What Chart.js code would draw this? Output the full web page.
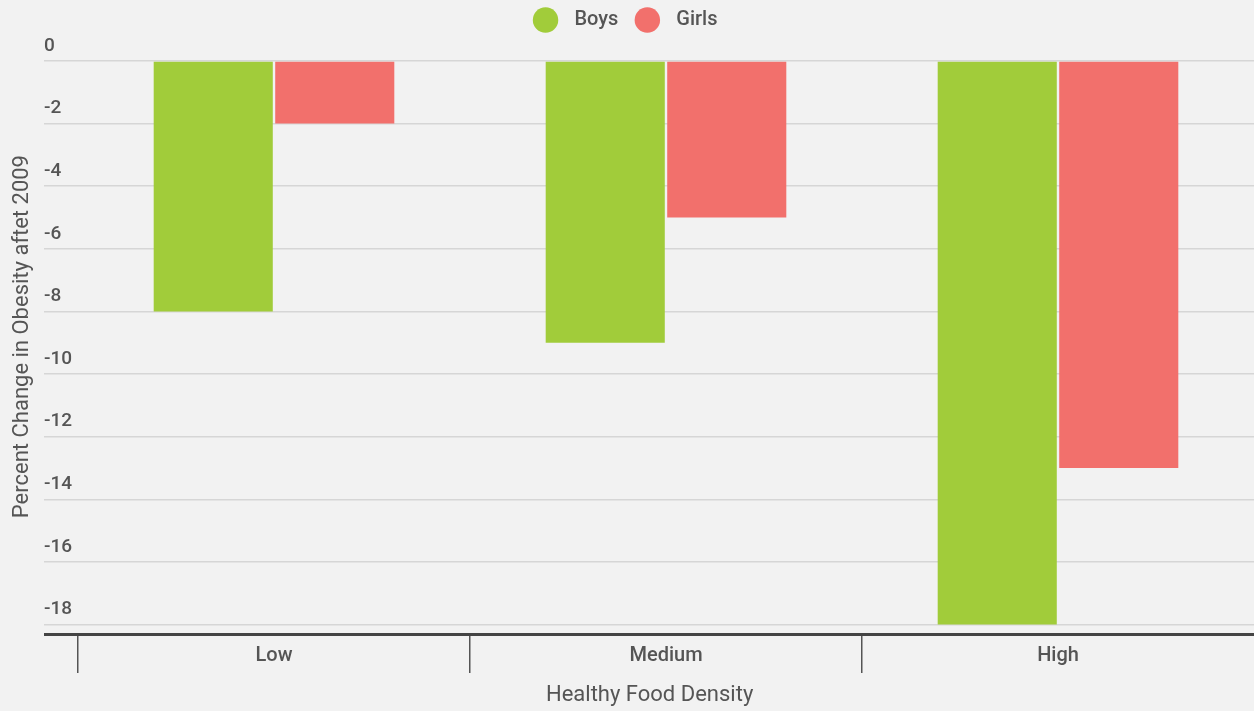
<!DOCTYPE html>
<html>
<head>
<meta charset="utf-8">
<script src="https://cdn.jsdelivr.net/npm/chart.js@4.4.1/dist/chart.umd.min.js"></script>
<style>
  html, body { margin: 0; padding: 0; background: #f2f2f2; }
  #wrap { width: 1254px; height: 711px; position: relative; }
</style>
</head>
<body>
<div id="wrap"><canvas id="grafico"></canvas></div>
<script>
// dados
const categorias = ['Low', 'Medium', 'High'];
const meninos = [-8, -9, -18];
const meninas = [-2, -5, -13];
const y_ticks = [0, -2, -4, -6, -8, -10, -12, -14, -16, -18];
const y_min = -18.3;
const y_max = 0;

const cor_texto = '#555555';

// espaco extra abaixo da legenda
const espaco_legenda = {
    id: 'espaco_legenda',
    beforeInit(chart) {
        const fitOrig = chart.legend.fit;
        chart.legend.fit = function () {
            fitOrig.bind(chart.legend)();
            this.height += 21;
        };
    }
};

// tracos de categoria, menos o da borda direita
function traco_categoria(c) {
    return c.type === 'tick' && c.index < categorias.length;
}

function renderiza_grafico() {
    const ctx = document.getElementById('grafico').getContext('2d');
    const myChart = new Chart(ctx, {
        type: 'bar',
        data: {
            labels: categorias,
            datasets: [{
                label: 'Boys',
                data: meninos,
                backgroundColor: '#a1cc3a',
                borderWidth: 0,
                categoryPercentage: 0.62,
                barPercentage: 0.98
            }, {
                label: 'Girls',
                data: meninas,
                backgroundColor: '#f2706c',
                borderWidth: 0,
                categoryPercentage: 0.62,
                barPercentage: 0.98
            }]
        },
        options: {
            responsive: true,
            maintainAspectRatio: false,
            animation: false,
            layout: { padding: 0 },
            plugins: {
                legend: {
                    position: 'top',
                    labels: {
                        usePointStyle: true,
                        pointStyle: 'circle',
                        boxHeight: 18,
                        boxWidth: 18,
                        color: cor_texto,
                        font: { family: 'Roboto', size: 20, weight: '500' },
                        padding: 10,
                        generateLabels: function (chart) {
                            const itens = Chart.defaults.plugins.legend.labels.generateLabels(chart);
                            itens.forEach(function (it, i) {
                                it.text = '  ' + it.text + (i < itens.length - 1 ? '  ' : '');
                            });
                            return itens;
                        }
                    }
                },
                tooltip: { enabled: false }
            },
            scales: {
                x: {
                    afterFit: function (scale) { scale.height = 77; },
                    grid: {
                        offset: true,
                        drawOnChartArea: false,
                        drawTicks: true,
                        tickLength: 39,
                        color: function (c) {
                            return traco_categoria(c) ? '#555555' : 'rgba(0,0,0,0)';
                        },
                        lineWidth: function (c) {
                            return traco_categoria(c) ? 1.5 : 0;
                        }
                    },
                    border: { display: false },
                    ticks: {
                        color: cor_texto,
                        font: { family: 'Roboto', size: 20, weight: '500' },
                        padding: -29
                    },
                    title: {
                        display: true,
                        text: 'Healthy Food Density      ',
                        color: cor_texto,
                        font: { family: 'Roboto', size: 22 },
                        padding: { top: 0, bottom: 2 }
                    }
                },
                y: {
                    min: y_min,
                    max: y_max,
                    weight: 0,
                    afterFit: function (scale) { scale.width = 34; },
                    afterBuildTicks: function (scale) {
                        scale.ticks = y_ticks.concat([y_min]).map(v => ({ value: v }));
                    },
                    border: { display: false },
                    grid: {
                        drawTicks: true,
                        tickLength: 34,
                        color: function (c) {
                            return c.tick && c.tick.value === y_min ? '#444444' : '#d6d6d6';
                        },
                        lineWidth: function (c) {
                            return c.tick && c.tick.value === y_min ? 3 : 1.5;
                        }
                    },
                    ticks: {
                        crossAlign: 'far',
                        labelOffset: -15,
                        padding: 0,
                        color: cor_texto,
                        font: { family: 'Roboto', size: 19, weight: '500' },
                        callback: function (v) {
                            return Number.isInteger(v) ? v : '';
                        }
                    }
                },
                yTitulo: {
                    type: 'linear',
                    position: 'left',
                    weight: 1,
                    afterFit: function (scale) { scale.width = 44; },
                    grid: { display: false },
                    border: { display: false },
                    ticks: { display: false },
                    title: {
                        display: true,
                        text: '    Percent Change in Obesity aftet 2009',
                        color: cor_texto,
                        font: { family: 'Roboto', size: 22 },
                        padding: { top: 9, bottom: 0 }
                    }
                }
            }
        },
        plugins: [espaco_legenda]
    });
}

renderiza_grafico();
</script>
</body>
</html>
